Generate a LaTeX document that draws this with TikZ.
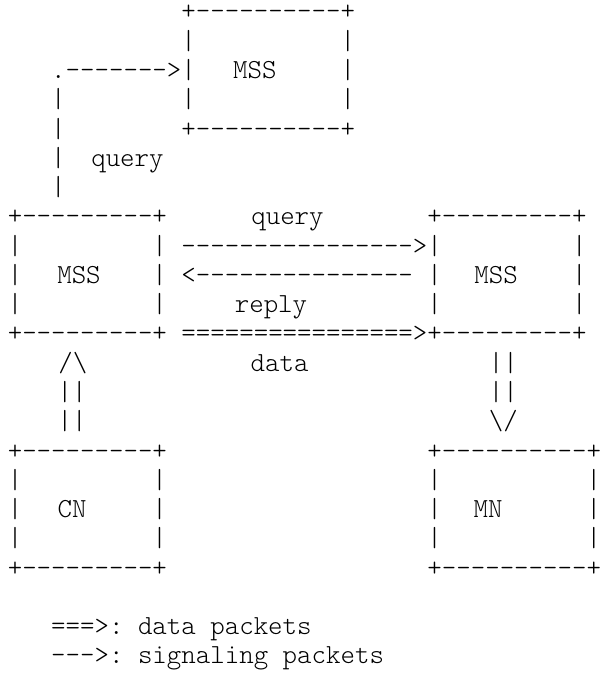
\documentclass[tikz,border=0pt]{standalone}
\usepackage{fontspec}
\setmonofont{lmmonolt10-regular.otf}
\tikzset{
  ascii/.style={anchor=base west, inner sep=0pt, outer sep=0pt,
    font=\ttfamily\fontsize{27.56}{29}\selectfont},
  word/.style={ascii, anchor=base},
}
\begin{document}
\begin{tikzpicture}[x=14.47pt, y=-29.27pt]
  % Page
  \fill[white] (-0.539,-0.683) rectangle (40.65,22.31);

  % Top MSS
  \node[ascii] (topN) at (12,0) {+----------+};
  \foreach \r in {1,2,3} {
    \node[ascii] (topW\r) at (12,\r) {|};
    \node[ascii] (topE\r) at (23,\r) {|};
  }
  \node[ascii] (topS) at (12,4) {+----------+};
  \node[word] (mssTop) at (17.08,2) {MSS};

  % Query up to the top MSS
  \node[ascii] (qDot) at (3,2) {.------->};
  \foreach \r in {3,...,6}
    \node[ascii] (qUp\r) at (3,\r) {|};
  \node[word] (qTop) at (8.27,5) {query};

  % Left MSS
  \node[ascii] (midLN) at (0,7) {+---------+};
  \foreach \r in {8,9,10} {
    \node[ascii] (midLW\r) at (0,\r) {|};
    \node[ascii] (midLE\r) at (10,\r) {|};
  }
  \node[ascii] (midLS) at (0,11) {+---------+};
  \node[word] (mssL) at (4.92,9) {MSS};

  % Right MSS
  \node[ascii] (midRN) at (29,7) {+---------+};
  \foreach \r in {8,9,10} {
    \node[ascii] (midRW\r) at (29,\r) {|};
    \node[ascii] (midRE\r) at (39,\r) {|};
  }
  \node[ascii] (midRS) at (29,11) {+---------+};
  \node[word] (mssR) at (33.74,9) {MSS};

  % Query, reply and data between the MSSs
  \node[word] (qMid) at (19.33,7) {query};
  \node[ascii] (qArr) at (12,8) {---------------->};
  \node[ascii] (rArr) at (12,9) {<---------------};
  \node[word] (rMid) at (18.19,10) {reply};
  \node[ascii] (dArr) at (12,11) {================>};
  \node[word] (dMid) at (18.78,12) {data};

  % CN up to the left MSS
  \node[word] (cnHead) at (4.5,12) {/\textbackslash};
  \foreach \r in {13,14}
    \node[word] (cnUp\r) at (4.45,\r) {||};

  % Right MSS down to MN
  \foreach \r in {12,13}
    \node[word] (mnDown\r) at (34.25,\r) {||};
  \node[word] (mnHead) at (34.25,14) {\textbackslash/};

  % CN
  \node[ascii] (cnN) at (0,15) {+---------+};
  \foreach \r in {16,17,18} {
    \node[ascii] (cnW\r) at (0,\r) {|};
    \node[ascii] (cnE\r) at (10,\r) {|};
  }
  \node[ascii] (cnS) at (0,19) {+---------+};
  \node[word] (cn) at (4.44,17) {CN};

  % MN
  \node[ascii] (mnN) at (29,15) {+----------+};
  \foreach \r in {16,17,18} {
    \node[ascii] (mnW\r) at (29,\r) {|};
    \node[ascii] (mnE\r) at (40,\r) {|};
  }
  \node[ascii] (mnS) at (29,19) {+----------+};
  \node[word] (mn) at (33.2,17) {MN};

  % Legend
  \node[ascii] (legData) at (3,21) {===>: data packets};
  \node[ascii] (legSig) at (3,22) {--->: signaling packets};
\end{tikzpicture}
\end{document}
